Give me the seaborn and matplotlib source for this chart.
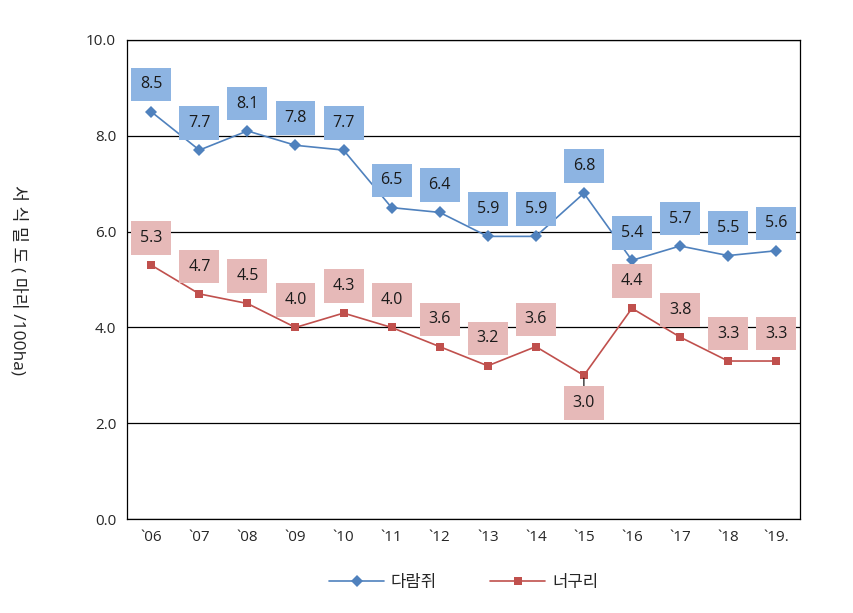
import matplotlib
matplotlib.use("Agg")
import matplotlib.pyplot as plt
import seaborn as sns
import pandas as pd

years = ["`06", "`07", "`08", "`09", "`10", "`11", "`12", "`13", "`14", "`15", "`16", "`17", "`18", "`19."]
squirrel = [8.5, 7.7, 8.1, 7.8, 7.7, 6.5, 6.4, 5.9, 5.9, 6.8, 5.4, 5.7, 5.5, 5.6]
raccoon = [5.3, 4.7, 4.5, 4.0, 4.3, 4.0, 3.6, 3.2, 3.6, 3.0, 4.4, 3.8, 3.3, 3.3]
series_names = ["다람쥐", "너구리"]

sns.set_style("white")
plt.rcParams["font.family"] = ["Open Sans", "Noto Sans CJK KR", "DejaVu Sans"]

df = pd.DataFrame({
    "x": list(range(len(years))) * 2,
    "value": squirrel + raccoon,
    "series": [series_names[0]] * len(years) + [series_names[1]] * len(years),
})

line_colors = {"다람쥐": "#4F81BD", "너구리": "#C0504D"}
box_colors = {"다람쥐": "#8DB4E2", "너구리": "#E6B9B8"}

fig = plt.figure(figsize=(8.54, 6.13), dpi=100)
ax = fig.add_axes([0.149, 0.153, 0.788, 0.782])

sns.lineplot(data=df, x="x", y="value", hue="series", style="series",
             palette=line_colors, markers={"다람쥐": "D", "너구리": "s"},
             dashes=False, markersize=6, linewidth=1.2, markeredgewidth=0,
             sort=False, ax=ax, zorder=3)

# data labels
for name, vals in [("다람쥐", squirrel), ("너구리", raccoon)]:
    for i, v in enumerate(vals):
        if name == "너구리" and years[i] == "`15":
            ax.annotate(f"{v:.1f}", xy=(i, v), xytext=(i, v - 0.58),
                        ha="center", va="center", fontsize=11.5, color="#1a1a1a",
                        bbox=dict(boxstyle="square,pad=0.55", fc=box_colors[name], ec="none"),
                        arrowprops=dict(arrowstyle="-", color="black", lw=0.8,
                                        shrinkA=0, shrinkB=2),
                        zorder=4)
        else:
            ax.text(i, v + 0.57, f"{v:.1f}", ha="center", va="center", fontsize=11.5,
                    color="#1a1a1a", zorder=4,
                    bbox=dict(boxstyle="square,pad=0.55", fc=box_colors[name], ec="none"))

ax.set_xlim(-0.5, len(years) - 0.5)
ax.set_ylim(0, 10)
ax.set_xticks(range(len(years)))
ax.set_xticklabels(years, fontsize=11)
ax.set_yticks([0, 2, 4, 6, 8, 10])
ax.set_yticklabels([f"{t:.1f}" for t in [0, 2, 4, 6, 8, 10]], fontsize=11)
ax.tick_params(axis="both", length=0, pad=8)
ax.yaxis.grid(True, color="black", linewidth=0.9)
ax.set_axisbelow(True)
for s in ax.spines.values():
    s.set_color("black")
    s.set_linewidth(0.9)
ax.set_xlabel("")
ax.set_ylabel("서 식 밀 도 ( 마리 /100ha)", rotation=270, fontsize=12.5, labelpad=55, va="bottom")

ax.legend(loc="upper center", bbox_to_anchor=(0.5, -0.085), ncol=2, frameon=False,
          fontsize=12, handlelength=3.3, handletextpad=0.4, columnspacing=3.2, title=None)

fig.savefig("out.png", dpi=100)
